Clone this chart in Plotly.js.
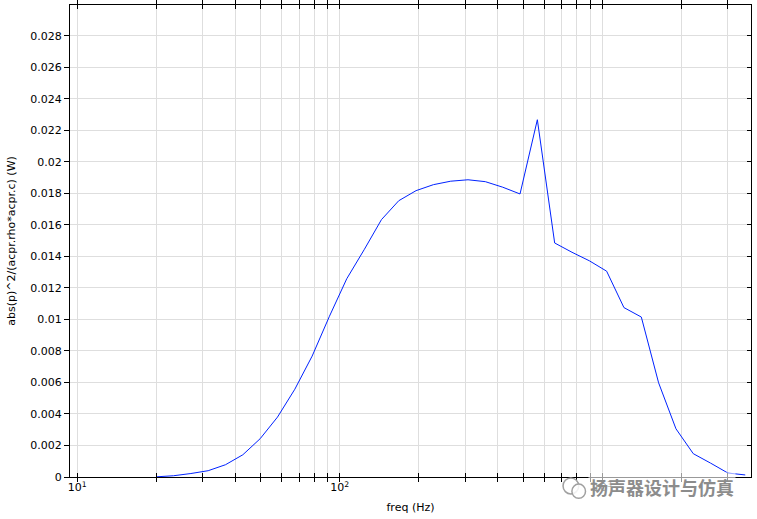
<!DOCTYPE html>
<html>
<head>
<meta charset="utf-8">
<script src="https://cdn.plot.ly/plotly-3.0.1.min.js"></script>
<style>html,body{margin:0;padding:0;background:#fff;}#chart{width:757px;height:519px;}</style>
</head>
<body>
<div id="chart"></div>
<script>
// Frequencies (Hz)
const freq = [20.00, 23.28, 27.10, 31.54, 36.72, 42.74, 49.75, 57.91, 67.42, 78.47,
  91.34, 106.3, 123.8, 144.1, 167.7, 195.2, 227.3, 264.5, 307.9, 358.4,
  417.2, 485.7, 565.4, 658.1, 766.1, 891.8, 1038, 1208, 1407, 1637,
  1906, 2219, 2583, 3007, 3500];
// abs(p)^2/(acpr.rho*acpr.c) (W)
const power = [0.00001, 0.00008, 0.00022, 0.00040, 0.00078, 0.00141, 0.00243, 0.00380, 0.00557, 0.00767,
  0.01020, 0.01258, 0.01442, 0.01633, 0.01753, 0.01817, 0.01855, 0.01877, 0.01886, 0.01874,
  0.01839, 0.01796, 0.02267, 0.01485, 0.01426, 0.01372, 0.01306, 0.01075, 0.01015, 0.00598,
  0.00306, 0.00148, 0.00088, 0.00025, 0.00013];

const xTickVals = [10,20,30,40,50,60,70,80,90,100,200,300,400,500,600,700,800,900,1000,2000,3000];
const xTickText = ['10<sup>1</sup>','','','','','','','','','10<sup>2</sup>','','','','','','','','','10<sup>3</sup>','',''];
const yTickVals = [0,0.002,0.004,0.006,0.008,0.01,0.012,0.014,0.016,0.018,0.02,0.022,0.024,0.026,0.028];
const yTickText = ['0','0.002','0.004','0.006','0.008','0.01','0.012','0.014','0.016','0.018','0.02','0.022','0.024','0.026','0.028'];

const font = {family: 'DejaVu Sans, sans-serif', size: 11, color: '#000'};

const traces = [
  {x: freq, y: power, type: 'scatter', mode: 'lines', line: {color: '#0022ff', width: 1}, hoverinfo: 'skip', showlegend: false},
  {x: [null], y: [null], yaxis: 'y2', type: 'scatter', mode: 'lines', showlegend: false, hoverinfo: 'skip'}
];

const layout = {
  width: 757, height: 519,
  margin: {l: 70, r: 6, t: 5, b: 42},
  paper_bgcolor: '#fff', plot_bgcolor: '#fff',
  font: font,
  showlegend: false,
  xaxis: {
    type: 'log', range: [Math.log10(9.39), Math.log10(3681)],
    tickvals: xTickVals, ticktext: xTickText,
    ticks: 'inside', ticklen: 4, tickcolor: '#000', tickwidth: 1,
    showgrid: true, gridcolor: '#dedede', gridwidth: 1,
    showline: true, linecolor: '#000', linewidth: 1, mirror: 'allticks',
    zeroline: false,
    title: {text: 'freq (Hz)', font: font, standoff: 10},
    tickfont: font
  },
  yaxis: {
    range: [0, 0.02995],
    tickvals: yTickVals, ticktext: yTickText,
    ticks: 'outside', ticklen: 5, tickcolor: '#000', tickwidth: 1,
    showgrid: true, gridcolor: '#dedede', gridwidth: 1,
    showline: true, linecolor: '#000', linewidth: 1, mirror: true,
    zeroline: false,
    title: {text: 'abs(p)^2/(acpr.rho*acpr.c) (W)', font: font, standoff: 12},
    tickfont: font
  },
  yaxis2: {
    overlaying: 'y', side: 'right', range: [0, 0.02995],
    tickvals: yTickVals, showticklabels: false,
    ticks: 'inside', ticklen: 4, tickcolor: '#000',
    showgrid: false, zeroline: false, showline: false
  },
  annotations: [
    {xref: 'paper', yref: 'paper', x: 0.869, y: -0.021, xanchor: 'center', yanchor: 'middle',
     text: '<b>扬声器设计与仿真</b>', showarrow: false, bgcolor: 'rgba(255,255,255,0.6)',
     font: {family: 'Noto Sans CJK SC, sans-serif', size: 18, color: '#8c8c8c'}}
  ],
  shapes: [
    {type: 'circle', xref: 'paper', yref: 'paper', x0: 0.724, x1: 0.747, y0: -0.036, y1: -0.002,
     line: {color: '#a0a0a0', width: 1.5}, fillcolor: 'rgba(255,255,255,0.85)'},
    {type: 'circle', xref: 'paper', yref: 'paper', x0: 0.737, x1: 0.757, y0: -0.045, y1: -0.015,
     line: {color: '#a0a0a0', width: 1.5}, fillcolor: 'rgba(255,255,255,0.85)'}
  ]
};

Plotly.newPlot('chart', traces, layout, {staticPlot: true, displayModeBar: false});
</script>
</body>
</html>
